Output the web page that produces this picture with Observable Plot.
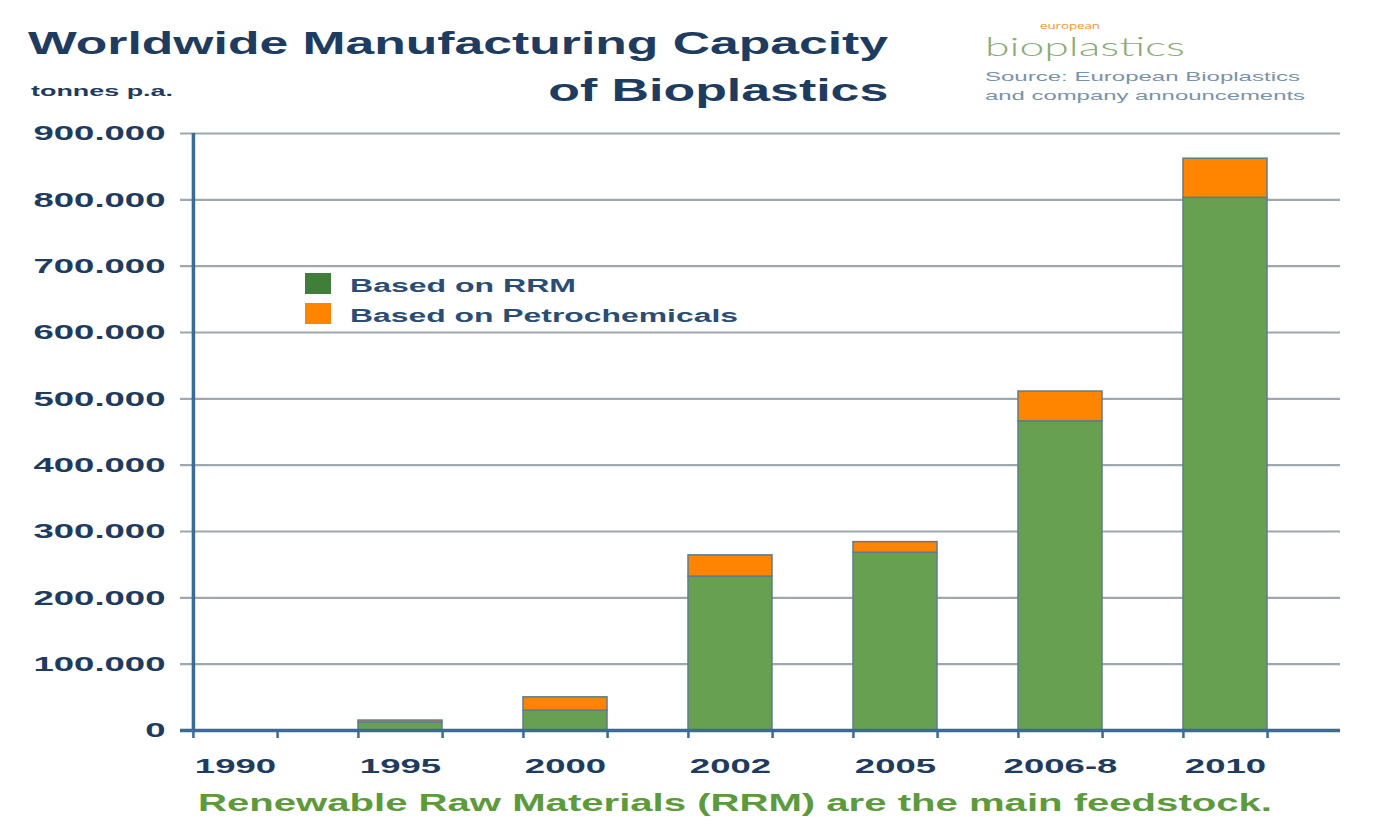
<!DOCTYPE html>
<html><head><meta charset="utf-8">
<script src="https://cdn.jsdelivr.net/npm/d3@7"></script>
<script src="https://cdn.jsdelivr.net/npm/@observablehq/plot@0.6"></script>
<style>
body{margin:0;background:#fff;}
#wrap{position:relative;width:1374px;height:840px;overflow:hidden;font-family:"Liberation Sans",Arial,sans-serif;}
.t{position:absolute;white-space:nowrap;line-height:1;display:inline-block;}
.sw{position:absolute;width:26px;height:21px;}
</style></head><body>
<div id="wrap">
  <div class="t" id="t1" style="left:28px;top:28px;font-size:31px;font-weight:bold;color:#1e3b60">Worldwide Manufacturing Capacity</div>
  <div class="t" id="t2" style="right:486px;top:75px;font-size:31px;font-weight:bold;color:#1e3b60">of Bioplastics</div>
  <div class="t" id="unit" style="left:31px;top:83px;font-size:15px;font-weight:bold;color:#1e3b60">tonnes p.a.</div>
  <div class="t" id="logoEu" style="left:1040px;top:21px;font-size:9px;color:#f0922e;font-family:'Open Sans','Liberation Sans',sans-serif">european</div>
  <div class="t" id="logo" style="left:985px;top:33px;font-size:26px;font-weight:300;color:#8aab7a;font-family:Lato,'Open Sans','Liberation Sans',sans-serif">bioplastics</div>
  <div class="t" id="src1" style="left:985px;top:70px;font-size:13.5px;color:#7893aa">Source: European Bioplastics</div>
  <div class="t" id="src2" style="left:985px;top:89px;font-size:13.5px;color:#7893aa">and company announcements</div>
  <div id="chart" style="position:absolute;left:0;top:110px"></div>
  <div class="sw" style="left:305px;top:273px;background:#3f7f3a"></div>
  <div class="sw" style="left:305px;top:303px;background:#ff8400"></div>
  <div class="t" id="lg1" style="left:350px;top:277px;font-size:18px;font-weight:bold;color:#2b4d74"></div>
  <div class="t" id="lg2" style="left:350px;top:307px;font-size:18px;font-weight:bold;color:#2b4d74"></div>
  <div class="t" id="foot" style="left:198px;top:792px;font-size:23px;font-weight:bold;color:#5c9a3c">Renewable Raw Materials (RRM) are the main feedstock.</div>
</div>
<script>
// ---- data ----
const years = ["1990", "1995", "2000", "2002", "2005", "2006-8", "2010"];
const seriesNames = ["Based on RRM", "Based on Petrochemicals"];
const rrm   = [0, 12000, 30000, 232000, 268000, 466000, 803000];
const petro = [0,  3000, 20000,  32000,  16000,  45000,  59000];
const yTicks = [0, 100000, 200000, 300000, 400000, 500000, 600000, 700000, 800000, 900000];

// ---- layout / style ----
const W = 1374, H = 670, mL = 193, mR = 34, mT = 23, mB = 50;
const PI = 0.49, PO = 0.22;
const step = (W - mL - mR) / (years.length - PI + 2 * PO);
const bw = step * (1 - PI);
const GREEN = "#68a052", ORANGE = "#ff8400", AXIS = "#3b6b94", GRID = "#9ea8ae", EDGE = "#5d7d8c";
const K = 1.74;

document.getElementById("lg1").textContent = seriesNames[0];
document.getElementById("lg2").textContent = seriesNames[1];

const table = years.flatMap((y, i) => [
  {year: y, series: seriesNames[0], value: rrm[i]},
  {year: y, series: seriesNames[1], value: petro[i]}
]);
const fmt = d => d === 0 ? "0" : d3.format(",")(d).replace(/,/g, ".");

const chart = Plot.plot({
  width: W, height: H, marginLeft: mL, marginRight: mR, marginTop: mT, marginBottom: mB,
  style: {fontFamily: '"Liberation Sans", Arial, sans-serif', fontSize: "21px", fontWeight: "bold", color: "#1f3c5f", background: "transparent", overflow: "visible"},
  x: {domain: years, paddingInner: PI, paddingOuter: PO, align: 0, label: null, tickSize: 0, tickPadding: 28},
  y: {domain: [0, 900000], ticks: yTicks, tickFormat: fmt, label: null, tickSize: 0, tickPadding: 28},
  color: {domain: seriesNames, range: [GREEN, ORANGE]},
  marks: [
    Plot.ruleY(yTicks.slice(1), {stroke: GRID, strokeWidth: 2.2, insetLeft: -13}),
    Plot.barY(table, {x: "year", y: "value", fill: "series", stroke: EDGE, strokeWidth: 1.5}),
    Plot.ruleY([0], {stroke: AXIS, strokeWidth: 3.5, insetLeft: -13}),
    Plot.ruleX([years[0]], {x: d => d, dx: -bw / 2, y1: 0, y2: 900000, stroke: AXIS, strokeWidth: 3.5}),
    Plot.ruleX(years, {x: d => d, dx: -bw / 2, y1: 0, y2: 0, insetBottom: -8, stroke: AXIS, strokeWidth: 2.5}),
    Plot.ruleX(years, {x: d => d, dx: bw / 2, y1: 0, y2: 0, insetBottom: -8, stroke: AXIS, strokeWidth: 2.5})
  ]
});
document.getElementById("chart").appendChild(chart);

// horizontal stretch of axis labels (as in the reference)
chart.querySelectorAll("text").forEach(t => {
  const x = +(t.getAttribute("x") || 0);
  const tr = t.getAttribute("transform") || "";
  t.setAttribute("transform", `${tr} translate(${x},0) scale(${K},1) translate(${-x},0)`);
});

// fit HTML texts to their widths in the reference
function fit(id, w, origin) {
  const el = document.getElementById(id);
  const nat = el.getBoundingClientRect().width;
  el.style.transformOrigin = origin || "left top";
  el.style.transform = `scaleX(${w / nat})`;
}
fit("t1", 860); fit("t2", 340, "right top"); fit("unit", 142);
fit("logoEu", 60); fit("logo", 200); fit("src1", 315); fit("src2", 320);
fit("lg1", 226); fit("lg2", 388); fit("foot", 1074);
</script>
</body></html>
